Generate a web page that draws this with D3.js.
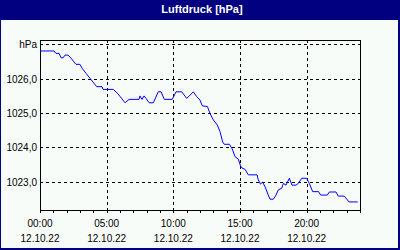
<!DOCTYPE html>
<html>
<head>
<meta charset="utf-8">
<script src="https://cdn.jsdelivr.net/npm/d3@7"></script>
<style>
  body { margin: 0; background: #fff; }
  svg { display: block; }
  text { font-family: "Liberation Sans", Arial, sans-serif; font-size: 10px; fill: #000; }
</style>
</head>
<body>
<svg id="chart"></svg>
<script>
// Luftdruck am 12.10.22 (Stunden seit 00:00, hPa)
var hours = [0.00, 1.05, 1.20, 1.43, 1.58, 1.73, 1.88, 2.10, 2.33, 2.55, 2.70, 3.00, 3.15, 3.45, 3.80,
    4.25, 4.65, 4.73, 5.50, 5.85, 6.38, 6.68, 7.43, 7.50, 7.65, 7.80, 7.95, 8.18, 8.50, 8.87,
    9.08, 9.32, 9.92, 10.20, 10.63, 11.00, 11.20, 11.50, 11.75, 12.00, 12.17, 12.56, 12.75, 13.00,
    13.30, 13.50, 13.70, 13.82, 14.21, 14.42, 14.63, 14.87, 15.04, 15.15, 15.38, 15.62, 16.28,
    16.37, 16.54, 16.70, 16.88, 17.12, 17.25, 17.50, 17.70, 17.87, 18.13, 18.25, 18.45, 18.70,
    18.90, 19.20, 19.37, 19.63, 19.99, 20.20, 20.45, 20.89, 21.05, 21.55, 21.70, 22.20, 22.37,
    22.82, 23.18, 23.83];
var pressure = [1026.81, 1026.81, 1026.74, 1026.74, 1026.61, 1026.61, 1026.69, 1026.69, 1026.60, 1026.49,
    1026.42, 1026.42, 1026.31, 1026.16, 1025.99, 1025.77, 1025.77, 1025.69, 1025.69, 1025.56,
    1025.30, 1025.40, 1025.40, 1025.50, 1025.40, 1025.50, 1025.43, 1025.30, 1025.30, 1025.62,
    1025.62, 1025.40, 1025.40, 1025.62, 1025.62, 1025.43, 1025.50, 1025.62, 1025.48, 1025.38,
    1025.21, 1025.19, 1024.99, 1024.80, 1024.65, 1024.46, 1024.16, 1024.09, 1024.09, 1023.95,
    1023.73, 1023.66, 1023.46, 1023.40, 1023.36, 1023.20, 1023.20, 1023.05, 1022.93, 1022.99,
    1022.85, 1022.61, 1022.49, 1022.49, 1022.61, 1022.76, 1022.81, 1022.95, 1022.90, 1023.10,
    1022.90, 1022.90, 1022.95, 1023.10, 1023.10, 1022.95, 1022.71, 1022.71, 1022.61, 1022.61,
    1022.70, 1022.70, 1022.58, 1022.58, 1022.41, 1022.41];

var yTicks = [1027, 1026, 1025, 1024, 1023];
var yLabels = ["hPa", "1026,0", "1025,0", "1024,0", "1023,0"];
var xTicks = [0, 5, 10, 15, 20];
var xLabels = ["00:00", "05:00", "10:00", "15:00", "20:00"];
var dateLabel = "12.10.22";
var title = "Luftdruck [hPa]";

var width = 400, height = 250;
var plotLeft = 40, plotRight = 360, plotTop = 40, plotBottom = 210;

var svg = d3.select("#chart").attr("width", width).attr("height", height);

// Hintergrund + Rahmen
svg.append("rect").attr("width", width).attr("height", height).attr("fill", "#000080");
svg.append("rect").attr("x", 1).attr("y", 20).attr("width", 397).attr("height", 228).attr("fill", "#f8fcf8");

svg.append("text")
    .attr("x", 202).attr("y", 13)
    .attr("text-anchor", "middle")
    .style("font-weight", "bold").style("font-size", "11px").style("fill", "#fff")
    .text(title);

var x = d3.scaleLinear().domain([0, 24]).range([plotLeft, plotRight]);
var y = d3.scaleLinear().domain([1022.175, 1027.13]).range([plotBottom, plotTop]);

function px(v) { return Math.round(v) + 0.5; }

// Gitterlinien
svg.append("g").selectAll("line")
    .data(yTicks)
    .enter()
    .append("line")
    .attr("x1", plotLeft).attr("x2", plotRight)
    .attr("y1", function(d) { return px(y(d)); })
    .attr("y2", function(d) { return px(y(d)); })
    .attr("stroke", "#000").attr("stroke-dasharray", "3,3");

svg.append("g").selectAll("line")
    .data(xTicks.slice(1))
    .enter()
    .append("line")
    .attr("x1", function(d) { return px(x(d)); })
    .attr("x2", function(d) { return px(x(d)); })
    .attr("y1", plotTop).attr("y2", plotBottom)
    .attr("stroke", "#000").attr("stroke-dasharray", "3,3");

// Stundenstriche
svg.append("g").selectAll("line")
    .data(d3.range(0, 25))
    .enter()
    .append("line")
    .attr("x1", function(d) { return px(x(d)); })
    .attr("x2", function(d) { return px(x(d)); })
    .attr("y1", plotBottom).attr("y2", plotBottom + 3)
    .attr("stroke", "#000");

// Plotrahmen
svg.append("rect")
    .attr("x", plotLeft + 0.5).attr("y", plotTop + 0.5)
    .attr("width", plotRight - plotLeft).attr("height", plotBottom - plotTop)
    .attr("fill", "none").attr("stroke", "#000");

// Linie
var points = hours.map(function(h, i) { return [h, pressure[i]]; });
var line = d3.line()
    .x(function(d) { return x(d[0]); })
    .y(function(d) { return y(d[1]); });
svg.append("path")
    .datum(points)
    .attr("d", line)
    .attr("fill", "none")
    .attr("stroke", "#0000ff")
    .attr("stroke-width", 1);

// Achsenbeschriftung
svg.append("g").selectAll("text")
    .data(yTicks)
    .enter()
    .append("text")
    .attr("x", 37)
    .attr("y", function(d) { return Math.round(y(d)) + 4; })
    .attr("text-anchor", "end")
    .text(function(d, i) { return yLabels[i]; });

var xl = svg.append("g").selectAll("g")
    .data(xTicks)
    .enter()
    .append("g");
xl.append("text")
    .attr("x", function(d) { return x(d); })
    .attr("y", 227)
    .attr("text-anchor", "middle")
    .text(function(d, i) { return xLabels[i]; });
xl.append("text")
    .attr("x", function(d) { return x(d); })
    .attr("y", 242)
    .attr("text-anchor", "middle")
    .text(dateLabel);
</script>
</body>
</html>
